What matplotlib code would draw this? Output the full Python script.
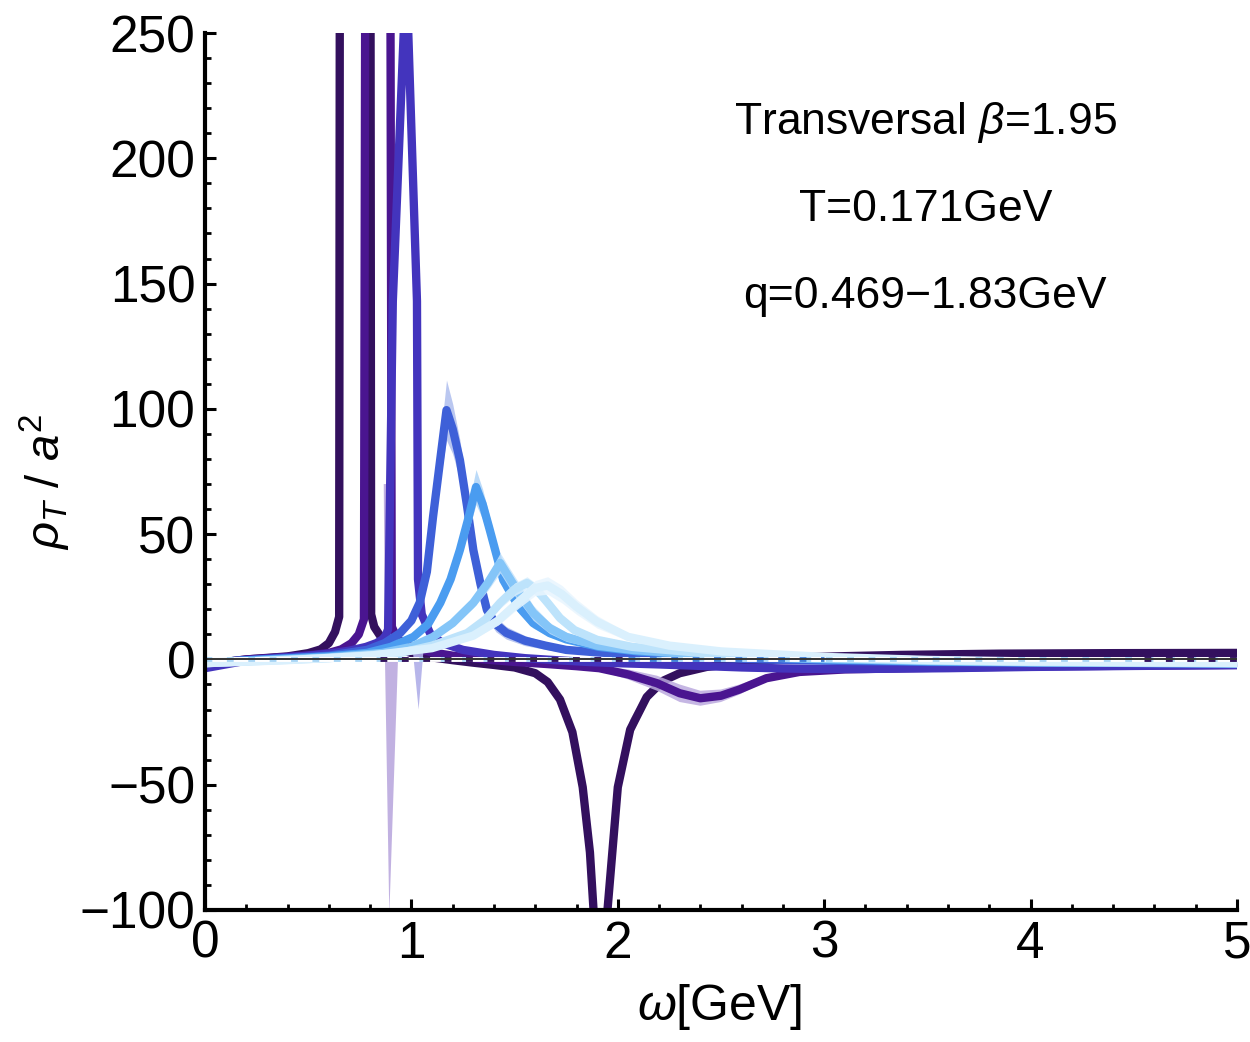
import numpy as np
import matplotlib.pyplot as plt
from matplotlib.ticker import MultipleLocator

plt.rcParams['font.family'] = ['Liberation Sans', 'DejaVu Sans']
plt.rcParams['mathtext.fontset'] = 'custom'
plt.rcParams['mathtext.rm'] = 'Liberation Sans'
plt.rcParams['mathtext.it'] = 'Liberation Sans:italic'

# spectral function curves, darkest (smallest q) first
w1 = [0.0, 0.1, 0.2, 0.3, 0.4, 0.5, 0.56, 0.6, 0.63, 0.65, 0.655, 0.80, 0.805, 0.82, 0.86, 0.91,
      1.0, 1.1, 1.2, 1.3, 1.4, 1.5, 1.6, 1.66, 1.72, 1.78, 1.83, 1.865, 1.89, 1.92, 1.95, 2.0,
      2.06, 2.14, 2.22, 2.3, 2.43, 2.59, 2.75, 2.88, 3.1, 3.37, 3.85, 4.4, 5.0]
r1 = [-3.0, -1.0, 0.0, 0.6, 1.2, 2.5, 4.0, 6.5, 11.0, 17.0, 420, 420, 18.0, 13.0, 8.0, 5.0,
      2.5, 0.8, -0.3, -1.3, -2.2, -3.2, -5.5, -9.0, -16.0, -29.0, -51.0, -77.0, -110, -130, -100, -51.0,
      -28.0, -15.0, -8.5, -5.5, -3.0, -1.5, -0.2, 0.8, 1.3, 1.8, 2.3, 2.5, 2.6]
e1 = [0.5, 0.5, 0.5, 0.5, 0.5, 0.6, 0.8, 1.0, 1.5, 2.0, 10, 10, 2.0, 1.5, 1.0, 0.8,
      0.6, 0.5, 0.5, 0.5, 0.5, 0.5, 0.6, 0.8, 1.0, 1.5, 2.5, 3.5, 4.0, 5.0, 6.0, 6.0,
      4.0, 2.5, 1.5, 1.0, 0.8, 0.6, 0.5, 0.5, 0.5, 0.5, 0.5, 0.6, 0.6]

w2 = [0.0, 0.1, 0.2, 0.3, 0.4, 0.5, 0.6, 0.66, 0.71, 0.745, 0.77, 0.78, 0.885, 0.895, 0.905, 0.93,
      0.97, 1.02, 1.1, 1.2, 1.35, 1.5, 1.65, 1.8, 1.91, 2.05, 2.19, 2.3, 2.4, 2.5, 2.59, 2.72,
      2.88, 3.1, 3.4, 4.0, 4.5, 5.0]
r2 = [-2.5, -1.0, 0.0, 0.5, 1.0, 1.6, 2.6, 4.0, 6.5, 10.0, 16.0, 420, 420, 400, 13.0, 8.5,
      6.0, 4.5, 2.8, 1.5, 0.0, -1.0, -1.8, -2.7, -3.5, -6.0, -9.5, -13.5, -15.5, -14.5, -12.0, -7.5,
      -5.0, -4.0, -3.5, -2.8, -2.5, -2.2]
e2 = [0.5, 0.5, 0.5, 0.5, 0.5, 0.6, 0.8, 1.0, 1.5, 2.0, 3.0, 10, 10, 10, 2.0, 1.5,
      1.0, 0.8, 0.6, 0.5, 0.5, 0.5, 0.5, 0.8, 1.0, 2.0, 3.0, 3.5, 3.0, 2.5, 2.0, 1.2,
      0.8, 0.6, 0.5, 0.5, 0.5, 0.5]
spike2_w = [0.866, 0.872, 0.893, 0.935, 0.915, 0.905]
spike2_r = [70, 0, -102, 0, 30, 70]

w3 = [0.0, 0.1, 0.2, 0.3, 0.4, 0.5, 0.6, 0.7, 0.78, 0.83, 0.86, 0.875, 0.887, 0.91, 0.975, 1.027,
      1.032, 1.05, 1.09, 1.15, 1.25, 1.4, 1.55, 1.7, 1.85, 2.0, 2.2, 2.4, 2.6, 2.8, 3.0, 3.2,
      3.6, 4.0, 4.5, 5.0]
r3 = [-3.5, -2.0, -0.5, 0.3, 0.9, 1.5, 2.3, 3.5, 5.0, 6.5, 8.0, 9.5, 12.0, 143, 275, 143,
      32.0, 18.0, 10.5, 6.5, 3.8, 1.8, 0.5, -0.3, -1.0, -1.5, -2.0, -2.6, -3.2, -3.6, -3.8, -3.8,
      -3.5, -3.0, -2.6, -2.3]
e3 = [0.5, 0.5, 0.5, 0.5, 0.5, 0.5, 0.5, 0.6, 0.8, 1.0, 1.2, 1.5, 2.0, 15, 30, 15,
      4.0, 2.0, 1.2, 1.0, 0.8, 0.6, 0.5, 0.5, 0.5, 0.6, 0.8, 1.0, 1.2, 1.2, 1.2, 1.2,
      1.0, 0.8, 0.6, 0.6]
spike3_w = [1.005, 1.035, 1.06]
spike3_r = [5, -20, 5]

w4 = [0.0, 0.2, 0.4, 0.6, 0.785, 0.87, 0.945, 1.0, 1.04, 1.075, 1.105, 1.14, 1.17, 1.2, 1.235, 1.27,
      1.30, 1.335, 1.366, 1.41, 1.46, 1.55, 1.65, 1.75, 1.9, 2.1, 2.4, 2.7, 3.0, 3.5, 4.0, 4.5, 5.0]
r4 = [-1.5, -0.3, 0.5, 1.5, 3.8, 6.5, 10.5, 15.5, 22.6, 35.0, 57.0, 80.0, 99.5, 92.0, 79.6, 61.0,
      43.7, 30.0, 19.7, 14.0, 10.6, 7.5, 5.5, 3.8, 2.8, 1.8, 0.8, 0.0, -0.5, -1.0, -1.2, -1.4, -1.5]
e4 = [0.5, 0.5, 0.5, 0.5, 0.6, 0.8, 1.0, 1.5, 2.0, 3.0, 5.0, 8.0, 12, 10, 8.0, 6.0,
      5.0, 4.0, 3.5, 3.0, 2.5, 2.0, 1.5, 1.2, 1.0, 0.8, 0.6, 0.5, 0.5, 0.5, 0.5, 0.5, 0.5]

w5 = [0.0, 0.3, 0.6, 0.785, 0.9, 1.01, 1.08, 1.14, 1.19, 1.235, 1.275, 1.313, 1.345, 1.38,
      1.445, 1.52, 1.59, 1.67, 1.75, 1.91, 2.1, 2.4, 2.7, 3.0, 3.5, 4.0, 5.0]
r5 = [-1.2, 0.0, 1.2, 2.6, 5.0, 9.0, 14.0, 22.6, 32.0, 43.7, 56.0, 68.8, 62.0, 51.6,
      31.7, 21.0, 14.5, 10.5, 8.0, 5.0, 3.2, 1.8, 0.8, 0.0, -0.8, -1.2, -1.6]
e5 = [0.5, 0.5, 0.5, 0.6, 0.8, 1.0, 1.5, 2.0, 3.0, 4.0, 5.0, 7.0, 6.0, 5.0,
      3.5, 2.5, 2.0, 1.5, 1.2, 1.0, 0.8, 0.6, 0.5, 0.5, 0.5, 0.5, 0.5]

w6 = [0.0, 0.3, 0.6, 0.86, 1.0, 1.105, 1.2, 1.3, 1.37, 1.43, 1.49, 1.59, 1.67, 1.75, 1.9,
      2.07, 2.4, 2.7, 3.0, 3.5, 4.0, 5.0]
r6 = [-1.5, -0.3, 0.8, 2.6, 5.0, 9.0, 14.5, 22.6, 30.5, 38.5, 30.5, 18.6, 12.5, 9.0, 5.5,
      3.8, 1.8, 0.8, 0.2, -0.6, -1.1, -1.6]
e6 = [0.5, 0.5, 0.5, 0.6, 0.8, 1.0, 1.5, 2.0, 3.0, 4.0, 4.0, 3.0, 2.2, 1.8, 1.2,
      1.0, 0.8, 0.6, 0.5, 0.5, 0.5, 0.5]

w7 = [0.0, 0.3, 0.6, 0.945, 1.1, 1.27, 1.36, 1.43, 1.5, 1.56, 1.61, 1.66, 1.72, 1.79, 1.9,
      2.07, 2.4, 2.7, 3.0, 3.5, 4.0, 5.0]
r7 = [-1.5, -0.5, 0.5, 2.6, 5.5, 10.5, 16.0, 22.6, 28.0, 30.5, 27.5, 22.6, 16.5, 11.7, 7.8,
      5.0, 2.6, 1.4, 0.6, -0.4, -1.0, -1.5]
e7 = [0.5, 0.5, 0.5, 0.6, 0.8, 1.2, 1.8, 2.2, 2.5, 2.5, 2.5, 2.2, 2.0, 1.5, 1.2,
      1.0, 0.8, 0.6, 0.5, 0.5, 0.5, 0.5]

w8 = [0.0, 0.4, 0.8, 1.1, 1.3, 1.42, 1.52, 1.6, 1.66, 1.73, 1.8, 1.9, 2.05, 2.25, 2.5,
      3.0, 3.5, 4.0, 5.0]
r8 = [-1.5, -0.3, 1.5, 4.5, 9.5, 15.5, 23.0, 28.5, 29.5, 26.0, 21.0, 15.0, 9.0, 5.5, 3.2,
      1.0, -0.2, -0.8, -1.4]
e8 = [0.5, 0.5, 0.5, 0.8, 1.2, 1.8, 2.5, 3.0, 3.5, 3.5, 3.0, 2.5, 1.5, 1.0, 0.8,
      0.6, 0.5, 0.5, 0.5]

colors = ['#33105e', '#4a1590', '#4334bd', '#3e60d8', '#4a9cf0', '#84c5f8', '#bde3fb', '#daf0fd']
band_colors = ['#b3a2d3', '#bba9de', '#b0aee8', '#aebdee', '#b0d4f7', '#c6e3fb', '#d9effd', '#e8f5fe']

series = [(w1, r1, e1), (w2, r2, e2), (w3, r3, e3), (w4, r4, e4),
          (w5, r5, e5), (w6, r6, e6), (w7, r7, e7), (w8, r8, e8)]

fig = plt.figure(figsize=(12.5, 10.42), dpi=100)
ax = fig.add_axes([0.164, 0.1267, 0.8256, 0.8416])

for i, (w, r, e) in enumerate(series):
    w = np.array(w)
    r = np.array(r)
    e = np.array(e)
    ax.fill_between(w, r - e, r + e, color=band_colors[i], alpha=0.85, lw=0, zorder=2 + i)
    if i == 1:
        ax.fill(spike2_w, spike2_r, color=band_colors[i], alpha=0.9, lw=0, zorder=2 + i)
    if i == 2:
        ax.fill(spike3_w, spike3_r, color=band_colors[i], alpha=0.9, lw=0, zorder=2 + i)
    ax.plot(w, r, color=colors[i], lw=6, solid_joinstyle='round', zorder=2.5 + i)

# zero line with dashed overlay
ax.axhline(0, color='white', lw=3.5, zorder=20)
ax.plot([0, 5], [0, 0], color='#a9d6f6', lw=3.5, dashes=(1.4, 3.0), zorder=21)
ax.plot([0.85, 2.05], [0, 0], color='#33105e', lw=3.5, dashes=(1.4, 3.0), zorder=22)
ax.plot([2.05, 3.0], [0, 0], color='#3f7ed8', lw=3.5, dashes=(1.4, 3.0), zorder=22)
ax.plot([4.55, 5.0], [0, 0], color='#33105e', lw=3.5, dashes=(1.4, 3.0), zorder=22)
ax.axhline(0, color='#333333', lw=1.4, zorder=23)

ax.set_xlim(0, 5)
ax.set_ylim(-100, 250)
ax.spines['top'].set_visible(False)
ax.spines['right'].set_visible(False)
ax.spines['left'].set_linewidth(3)
ax.spines['bottom'].set_linewidth(3)
ax.spines['left'].set_zorder(30)
ax.spines['bottom'].set_zorder(30)

ax.xaxis.set_major_locator(MultipleLocator(1))
ax.xaxis.set_minor_locator(MultipleLocator(0.2))
ax.yaxis.set_major_locator(MultipleLocator(50))
ax.yaxis.set_minor_locator(MultipleLocator(10))
ax.tick_params(which='major', direction='in', length=8, width=2.2)
ax.tick_params(which='minor', direction='in', length=4.5, width=2)
ax.tick_params(axis='y', which='major', labelsize=37, pad=7)
ax.tick_params(axis='x', which='major', labelsize=37, pad=7)
ax.set_yticks([-100, -50, 0, 50, 100, 150, 200, 250])
ax.set_yticklabels(['\u2212100', '\u221250', '0', '50', '100', '150', '200', '250'])
for lab in ax.get_xticklabels():
    lab.set_family(['Liberation Sans Narrow', 'Liberation Sans'])

ax.text(3.49, 214.4, r'Transversal $\beta$=1.95', fontsize=32, ha='center', va='center')
ax.text(3.49, 179.4, 'T=0.171GeV', fontsize=32, ha='center', va='center')
ax.text(3.49, 144.7, 'q=0.469\u22121.83GeV', fontsize=32, ha='center', va='center')

fig.text(45 / 1250, 1 - 482 / 1042, r'$\rho_T$ / $a^2$', fontsize=34, rotation=90,
         ha='center', va='center')
fig.text(720 / 1250, 1 - 1007 / 1042, r'$\omega$[GeV]', fontsize=36, ha='center', va='center',
         family=['Liberation Sans Narrow', 'Liberation Sans'])

fig.savefig('out.png', dpi=100)
